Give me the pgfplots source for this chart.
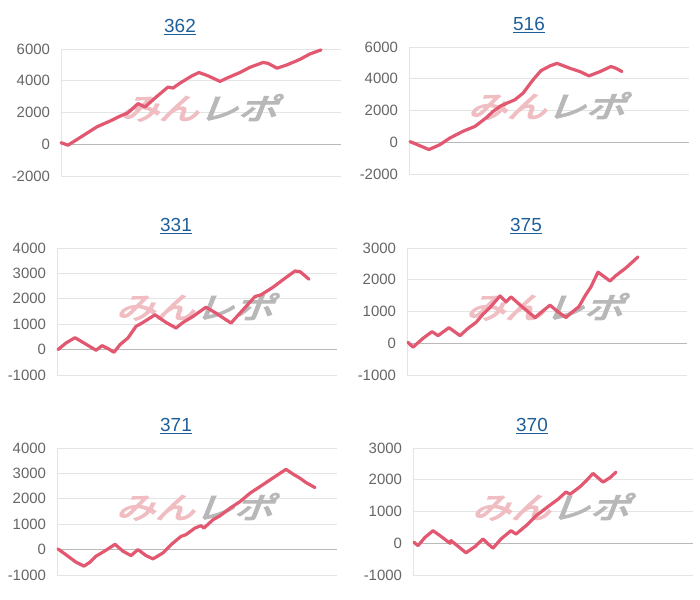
\documentclass[border=0pt]{standalone}
\usepackage{pgfplots}
\pgfplotsset{compat=1.18}
\usepackage{fontspec}
\setmainfont{Liberation Sans}
\newfontfamily\jpfont[FakeSlant=0.3,FakeBold=4]{Noto Sans CJK JP}
\definecolor{linec}{RGB}{226,88,112}
\definecolor{titlec}{RGB}{31,95,153}
\definecolor{tickc}{RGB}{102,102,102}
\definecolor{gridc}{RGB}{228,228,228}
\definecolor{zeroc}{RGB}{185,185,185}
\definecolor{wmpink}{RGB}{240,190,194}
\definecolor{wmgray}{RGB}{184,184,184}
\pgfplotsset{
  mini/.style={
    scale only axis, width=280bp, height=127bp,
    anchor=south west,
    xmin=0, xmax=280,
    axis x line=none,
    axis y line=left,
    y axis line style={-, draw=gridc, line width=0.8bp},
    ymajorgrids, grid style={draw=gridc, line width=0.8bp},
    major tick length=0pt,
    tick style={draw=none},
    /pgf/number format/assume math mode=true,
    /pgf/number format/1000 sep={},
    yticklabel style={font=\fontsize{15}{17}\selectfont, text=tickc, xshift=-7.5bp},
    clip=false,
  },
  dline/.style={color=linec, line width=3.2bp, line join=round, line cap=round},
}
\newcommand{\wm}{%
  \node[inner sep=0pt, xscale=1.32] at (rel axis cs:0.49,0.537)
   {\fontsize{30}{31}\selectfont\jpfont\textcolor{wmpink}{みん}\textcolor{wmgray}{レポ}};%
  \draw[zeroc, line width=0.8bp] (axis cs:0,0) -- (axis cs:280,0);%
}
\newcommand{\ttl}[3]{\node[text=titlec, font=\fontsize{19}{21}\selectfont] at (#1bp,#2bp) {\underline{#3}};}
\begin{document}
\begin{tikzpicture}
\path[use as bounding box] (0,0) rectangle (700bp,600bp);
\fill[white] (0,0) rectangle (700bp,600bp);
% titles
\ttl{180}{573}{362}
\ttl{529}{575}{516}
\ttl{176}{374}{331}
\ttl{526}{374}{375}
\ttl{176}{174}{371}
\ttl{532}{174}{370}
% chart 1
\begin{axis}[mini, at={(61bp,424bp)}, ymin=-2000, ymax=6000, ytick={-2000,0,2000,4000,6000}]
\wm
\addplot[dline] coordinates {(0,100)(7,-60)(19,420)(36,1100)(49,1460)(59,1770)(67,1980)(77,2560)(84,2350)(96,3020)(107,3600)(112,3540)(119,3850)(131,4310)(138,4520)(147,4310)(159,3960)(166,4170)(179,4520)(189,4850)(202,5150)(207,5100)(216,4790)(226,5000)(239,5350)(249,5690)(260,5940)};
\end{axis}
% chart 2
\begin{axis}[mini, at={(409bp,426bp)}, ymin=-2000, ymax=6000, ytick={-2000,0,2000,4000,6000}]
\wm
\addplot[dline] coordinates {(1,40)(20,-460)(31,-150)(41,270)(54,690)(66,1000)(77,1530)(84,1940)(92,2300)(106,2680)(114,3090)(124,3930)(132,4510)(141,4810)(148,4970)(161,4660)(171,4450)(180,4180)(191,4450)(202,4770)(207,4660)(213,4450)};
\end{axis}
% chart 3
\begin{axis}[mini, at={(57bp,225bp)}, ymin=-1000, ymax=4000, ytick={-1000,0,1000,2000,3000,4000}]
\wm
\addplot[dline] coordinates {(1,0)(9,260)(18,470)(28,235)(39,-25)(45,155)(51,40)(57,-105)(63,195)(71,460)(79,915)(85,1045)(98,1370)(109,1070)(119,850)(126,1070)(136,1305)(149,1670)(159,1435)(174,1045)(183,1435)(198,2090)(204,2155)(216,2455)(228,2810)(238,3095)(243,3070)(252,2770)};
\end{axis}
% chart 4
\begin{axis}[mini, at={(407bp,225bp)}, ymin=-1000, ymax=3000, ytick={-1000,0,1000,2000,3000}]
\wm
\addplot[dline] coordinates {(1,30)(6,-125)(16,155)(25,365)(31,240)(42,490)(53,240)(61,470)(69,655)(76,915)(83,1125)(93,1490)(99,1300)(104,1460)(116,1125)(128,810)(134,970)(143,1200)(151,990)(159,810)(164,950)(172,1155)(178,1490)(184,1780)(191,2240)(203,1960)(209,2135)(219,2375)(231,2720)};
\end{axis}
% chart 5
\begin{axis}[mini, at={(57bp,25bp)}, ymin=-1000, ymax=4000, ytick={-1000,0,1000,2000,3000,4000}]
\wm
\addplot[dline] coordinates {(1,25)(11,-260)(19,-495)(27,-650)(33,-495)(39,-260)(49,-25)(58,210)(66,-65)(74,-235)(81,0)(89,-235)(96,-365)(106,-130)(116,260)(124,520)(129,590)(138,850)(144,940)(147,850)(156,1175)(163,1330)(173,1630)(183,1890)(193,2220)(203,2480)(214,2770)(229,3160)(236,2975)(243,2810)(249,2640)(258,2440)};
\end{axis}
% chart 6
\begin{axis}[mini, at={(413bp,25bp)}, ymin=-1000, ymax=3000, ytick={-1000,0,1000,2000,3000}]
\wm
\addplot[dline] coordinates {(1,30)(5,-75)(12,185)(20,395)(27,240)(37,0)(38,85)(45,-95)(53,-300)(62,-105)(70,135)(75,-20)(80,-155)(88,135)(98,395)(103,290)(113,550)(123,865)(135,1155)(145,1385)(153,1615)(157,1540)(167,1780)(173,1960)(180,2200)(190,1925)(197,2065)(203,2240)};
\end{axis}
\end{tikzpicture}
\end{document}
